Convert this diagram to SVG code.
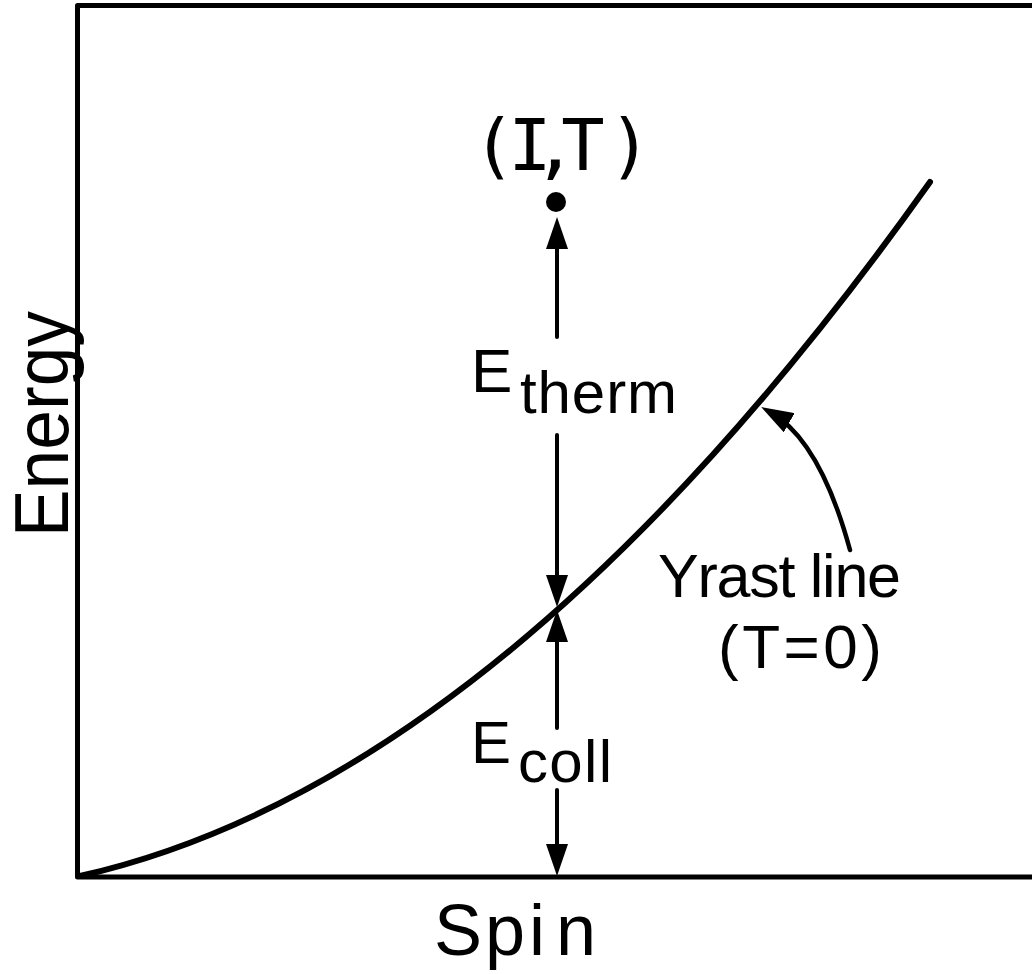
<svg xmlns="http://www.w3.org/2000/svg" width="1032" height="974" viewBox="0 0 1032 974">
<style>
.ln{fill:none;stroke:#000;stroke-linecap:round;stroke-linejoin:round}
.t{font-family:"Liberation Sans",Arial,sans-serif;fill:#000}
.m{font-family:"DejaVu Sans Mono","Liberation Mono",monospace;fill:#000}
</style>
<defs>
<marker id="ah" viewBox="0 0 32 22" refX="22" refY="11" markerWidth="32" markerHeight="22" markerUnits="userSpaceOnUse" orient="auto">
<path d="M0,0 L32,11 L0,22 Z" fill="#000"/>
</marker>
</defs>
<g id="frame">
<path class="ln" d="M1032,5.5 H77.5 V877 H1032" stroke-width="5" stroke-linecap="butt"/>
</g>
<g id="yrast-curve">
<path class="ln" d="M80,876 Q505,780 930,182" stroke-width="6"/>
</g>
<g id="point-IT">
<circle cx="556" cy="202" r="10" fill="#000"/>
<text class="m" font-size="72" y="170" text-anchor="middle" x="494 530 555 583 630">(I,T)</text>
</g>
<g id="connectors">
<line class="ln" x1="557" y1="337" x2="557" y2="227" stroke-width="4" stroke-linecap="butt" marker-end="url(#ah)"/>
<line class="ln" x1="557" y1="435" x2="557" y2="597" stroke-width="4" stroke-linecap="butt" marker-end="url(#ah)"/>
<line class="ln" x1="557" y1="728" x2="557" y2="620" stroke-width="4" stroke-linecap="butt" marker-end="url(#ah)"/>
<line class="ln" x1="557" y1="790" x2="557" y2="866" stroke-width="4" stroke-linecap="butt" marker-end="url(#ah)"/>
<path class="ln" d="M850,550 Q820,440 770,412" stroke-width="4.5" marker-end="url(#ah)"/>
</g>
<g id="label-Etherm">
<text class="t" font-size="62" x="471" y="392">E</text>
<text class="t" font-size="60" x="520" y="413" textLength="157">therm</text>
</g>
<g id="label-Ecoll">
<text class="t" font-size="60" x="471" y="763">E</text>
<text class="t" font-size="60" x="518" y="782" textLength="94">coll</text>
</g>
<g id="label-yrast">
<text class="t" font-size="61" x="658" y="597" textLength="243">Yrast line</text>
<text class="t" font-size="62" x="718" y="668" textLength="164">(T=0)</text>
</g>
<g id="axis-labels">
<text class="t" font-size="72" y="955" text-anchor="middle" x="458 505 537 576">Spin</text>
<text class="t" font-size="76" transform="rotate(-90)" x="-537" y="68" textLength="226" lengthAdjust="spacingAndGlyphs">Energy</text>
</g>
</svg>
